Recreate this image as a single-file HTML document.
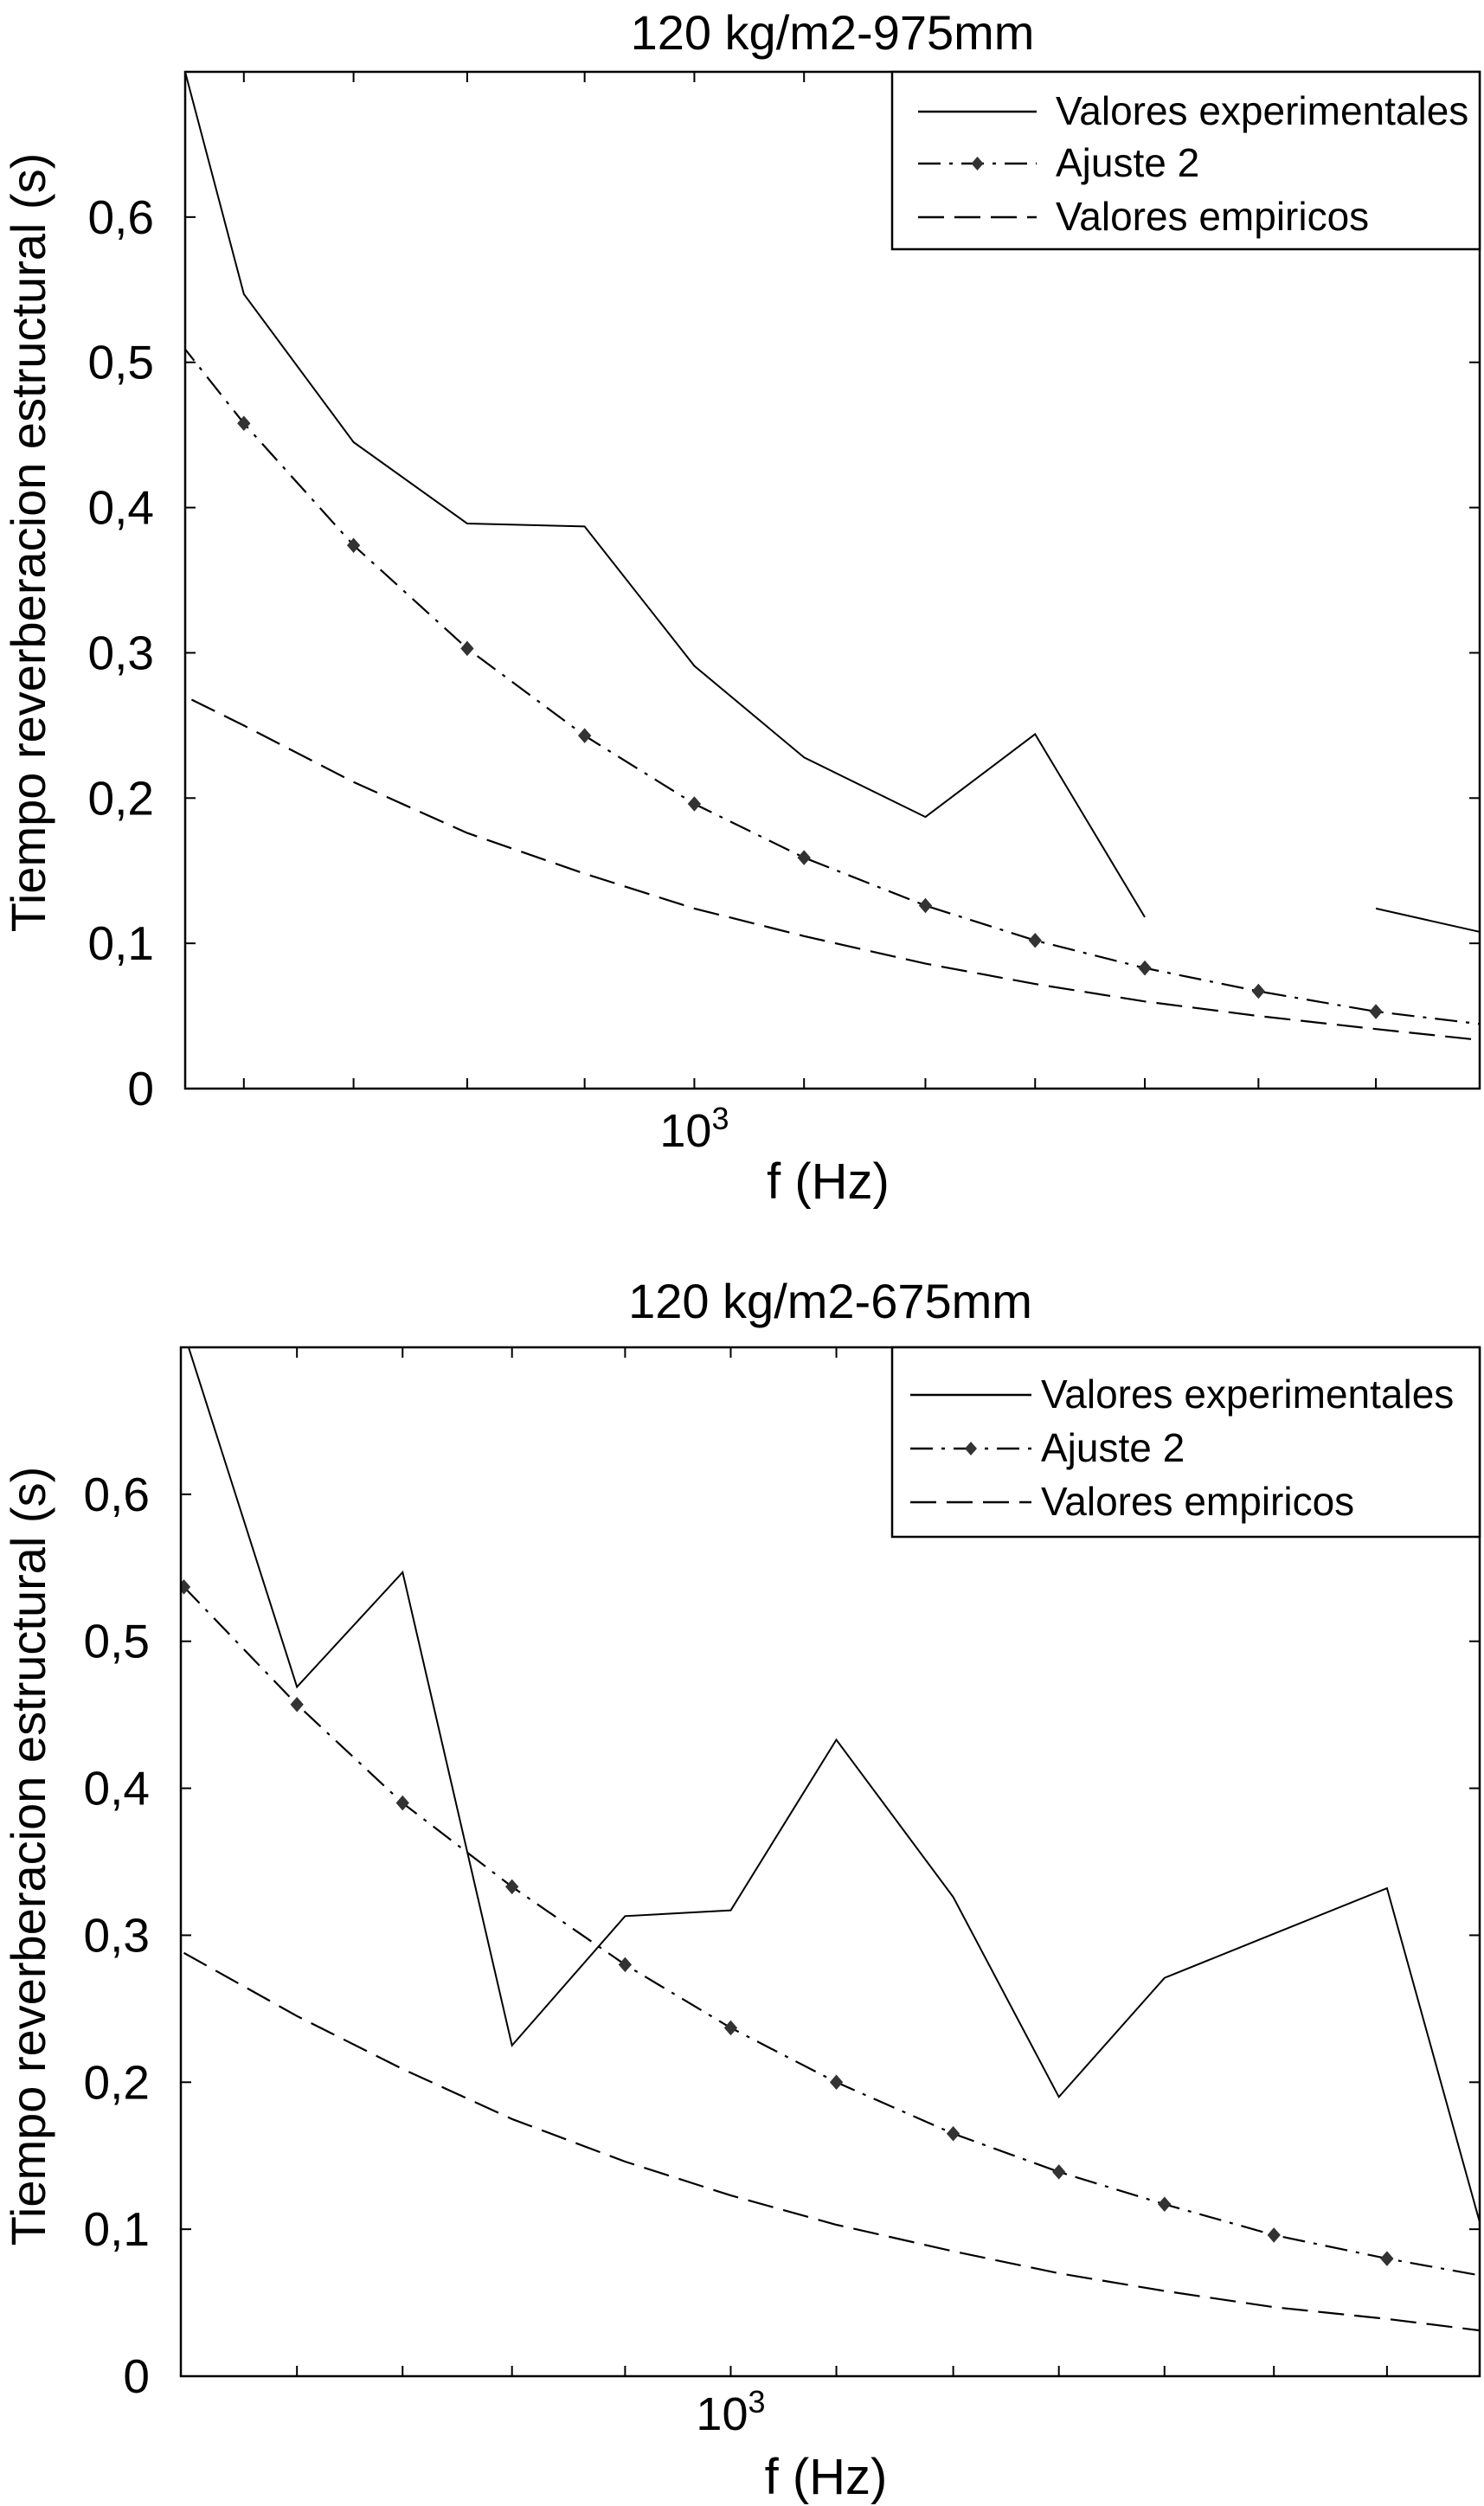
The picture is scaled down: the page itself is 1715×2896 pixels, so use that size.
<!DOCTYPE html>
<html><head><meta charset="utf-8"><style>
html,body{margin:0;padding:0;background:#fff;}
svg{display:block;font-family:"Liberation Sans",sans-serif;}
</style></head><body>
<svg id="fig" width="1715" height="2896" viewBox="0 0 1715 2896" xmlns="http://www.w3.org/2000/svg"></svg>
<script>
// ---- data ----
const freqs = [315,400,500,630,800,1000,1250,1600,2000,2500,3150,4000,5000];
const xTickFreqs = [400,500,630,800,1000,1250,1600,2000,2500,3150,4000];
const yTicks = [0,0.1,0.2,0.3,0.4,0.5,0.6];
const yTickLabels = ["0","0,1","0,2","0,3","0,4","0,5","0,6"];
const topExp = [0.853,0.547,0.445,0.389,0.387,0.291,0.228,0.187,0.244,0.118,null,0.124,0.107];
const topFit = [0.56,0.458,0.374,0.303,0.243,0.196,0.159,0.126,0.102,0.083,0.067,0.053,0.044];
const topEmp = [0.29,0.250,0.211,0.176,0.148,0.124,0.105,0.086,0.072,0.060,0.050,0.041,0.033];
const botExp = [0.71,0.469,0.547,0.225,0.313,0.317,0.433,0.326,0.190,0.271,0.301,0.332,0.073];
const botFit = [0.537,0.457,0.390,0.333,0.280,0.237,0.200,0.165,0.139,0.117,0.096,0.080,0.067];
const botEmp = [0.288,0.245,0.209,0.175,0.146,0.123,0.103,0.085,0.070,0.058,0.047,0.039,0.030];
const legendLabels = ["Valores experimentales","Ajuste 2","Valores empiricos"];

const NS="http://www.w3.org/2000/svg";
const svg=document.getElementById('fig');
function mk(tag,attrs,parent){const e=document.createElementNS(NS,tag);for(const k in attrs)e.setAttribute(k,attrs[k]);(parent||svg).appendChild(e);return e;}

function chart(cfg){
  const g=mk('g',{});
  
  
  const L=cfg.left,R=cfg.right,T=cfg.top,B=cfg.bottom;
  const lx0=Math.log10(cfg.fmin),lx1=Math.log10(cfg.fmax);
  const X=f=>L+(Math.log10(f)-lx0)/(lx1-lx0)*(R-L);
  const Y=v=>B-(v/0.7)*(B-T);
  const cid='clip-'+cfg.name;
  const cp=mk('clipPath',{id:cid},g);mk('rect',{x:L,y:T,width:R-L,height:B-T},cp);
  const t=mk('text',{x:(L+R)/2,y:cfg.titleY,'font-size':56,'text-anchor':'middle'},g);t.textContent=cfg.title;
  
  
  yTicks.forEach((v,i)=>{
    mk('line',{x1:L,x2:L+12,y1:Y(v),y2:Y(v),stroke:'#000','stroke-width':2},g);
    mk('line',{x1:R,x2:R-12,y1:Y(v),y2:Y(v),stroke:'#000','stroke-width':2},g);
    const tl=mk('text',{x:L-36,y:Y(v)+19,'font-size':55,'text-anchor':'end'},g);tl.textContent=yTickLabels[i];
    
    
  });
  xTickFreqs.forEach(f=>{
    mk('line',{x1:X(f),x2:X(f),y1:B,y2:B-12,stroke:'#000','stroke-width':2},g);
    mk('line',{x1:X(f),x2:X(f),y1:T,y2:T+12,stroke:'#000','stroke-width':2},g);
  });
  const xl=mk('text',{x:X(1000),y:cfg.xTickY,'font-size':54,'text-anchor':'middle'},g);
  xl.innerHTML='10<tspan dy="-20" font-size="36">3</tspan>';
  
  
  const xt=mk('text',{x:(L+R)/2-5,y:cfg.xTitleY,'font-size':58,'text-anchor':'middle'},g);xt.textContent='f (Hz)';
  
  
  const yt=mk('text',{x:0,y:0,'font-size':56,'text-anchor':'middle',transform:`translate(52,${cfg.yTitleY}) rotate(-90)`},g);yt.textContent='Tiempo reverberacion estructural (s)';
  
  
  const pg=mk('g',{'clip-path':`url(#${cid})`},g);
  function path(vals,attrs,name){
    let d='',pen=false;
    vals.forEach((v,i)=>{if(v===null){pen=false;return;}d+=(pen?'L':'M')+X(freqs[i]).toFixed(1)+' '+Y(v).toFixed(1)+' ';pen=true;});
    const p=mk('path',Object.assign({d:d,fill:'none',stroke:'#000','stroke-width':2.2},attrs),pg);
    
    
  }
  path(cfg.emp,{'stroke-dasharray':'30 12'},'empirical-line');
  path(cfg.fit,{'stroke-dasharray':'26 10 4 10'},'fit-line');
  path(cfg.exp,{'stroke-width':2},'experimental-line');
  cfg.fit.forEach((v,i)=>{
    const cx=X(freqs[i]),cy=Y(v);
    const m=mk('path',{d:`M${cx-7} ${cy}L${cx} ${cy-8}L${cx+7} ${cy}L${cx} ${cy+8}Z`,fill:'#333',stroke:'#333','stroke-width':1},pg);
    
    
  });
  mk('rect',{x:L,y:T,width:R-L,height:B-T,fill:'none',stroke:'#000','stroke-width':2.5},g);
  const lg=mk('g',{},g);
  
  
  const lb=cfg.leg;
  mk('rect',{x:lb.x,y:T,width:R-lb.x,height:lb.h,fill:'#fff',stroke:'#000','stroke-width':2.5},lg);
  const dashes=[null,'26 10 4 10','30 12'];
  legendLabels.forEach((s,i)=>{
    const by=lb.ys[i];
    const a={x1:lb.lx0,x2:lb.lx1,y1:by-15,y2:by-15,stroke:'#000','stroke-width':2.5};
    if(dashes[i])a['stroke-dasharray']=dashes[i];
    mk('line',a,lg);
    if(i===1){const cx=(lb.lx0+lb.lx1)/2,cy=by-15;mk('path',{d:`M${cx-7} ${cy}L${cx} ${cy-8}L${cx+7} ${cy}L${cx} ${cy+8}Z`,fill:'#333'},lg);}
    const te=mk('text',{x:lb.tx,y:by,'font-size':46},lg);te.textContent=s;
    
    
  });
}

chart({name:'chart-975mm',title:'120 kg/m2-975mm',left:214,right:1710,top:83,bottom:1258,fmin:355,fmax:4940,
  titleY:57,xTickY:1325,xTitleY:1385,yTitleY:627,exp:topExp,fit:topFit,emp:topEmp,
  leg:{x:1031,h:205,ys:[144,204,266],lx0:1061,lx1:1198,tx:1220}});
chart({name:'chart-675mm',title:'120 kg/m2-675mm',left:209,right:1710,top:1557,bottom:2746,fmin:313,fmax:4865,
  titleY:1523,xTickY:2808,xTitleY:2882,yTitleY:2145,exp:botExp,fit:botFit,emp:botEmp,
  leg:{x:1031,h:219,ys:[1627,1689,1751],lx0:1052,lx1:1192,tx:1203}});
</script>
</body></html>
